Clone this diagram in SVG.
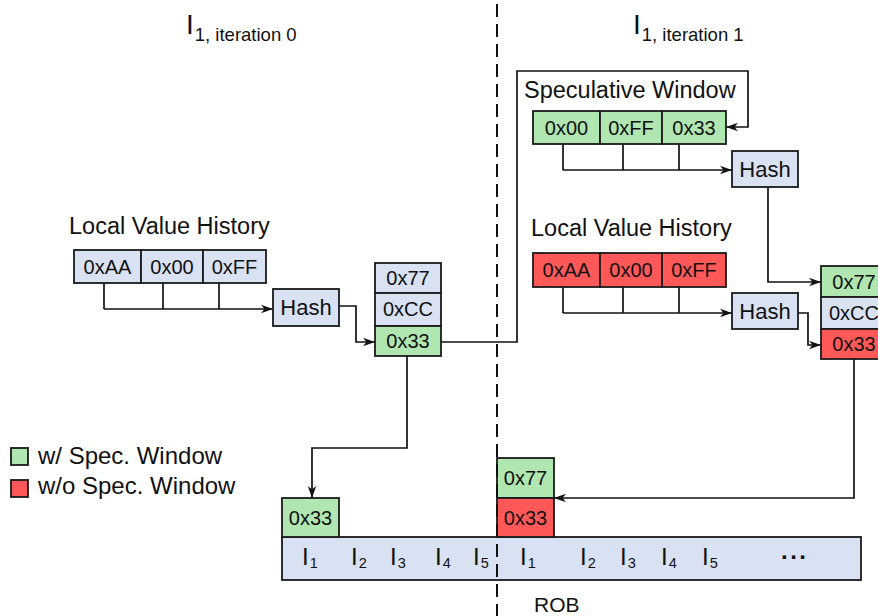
<svg xmlns="http://www.w3.org/2000/svg" width="878" height="616" viewBox="0 0 878 616">
<defs>
<style>
.b{fill:#D9E2F3;stroke:#1a1a1a;stroke-width:1.8}
.g{fill:#B0E6B0;stroke:#1a1a1a;stroke-width:1.8}
.r{fill:#FF5858;stroke:#1a1a1a;stroke-width:1.8}
.v{font-family:"Liberation Sans",Arial,sans-serif;font-size:20px;fill:#111;text-anchor:middle}
.h{font-family:"Liberation Sans",Arial,sans-serif;font-size:22px;fill:#111;text-anchor:middle}
.lab{font-family:"Liberation Sans",Arial,sans-serif;font-size:23.5px;fill:#111}
.rob{font-family:"Liberation Sans",Arial,sans-serif;font-size:24px;fill:#111}
.sub{font-size:14.5px}
.c{fill:none;stroke:#111;stroke-width:1.7}
.ca{fill:none;stroke:#111;stroke-width:1.7;marker-end:url(#ah)}
</style>
<marker id="ah" markerUnits="userSpaceOnUse" markerWidth="14" markerHeight="10" refX="12" refY="5" orient="auto">
<path d="M0,0.8 L12,5 L0,9.2 L3.5,5 Z" fill="#111"/>
</marker>
</defs>
<rect width="878" height="616" fill="#fff"/>

<g id="title0">
<text class="rob" x="186" y="34" style="font-size:28px">I<tspan style="font-size:18.5px" dy="7" dx="1">1, iteration 0</tspan></text>
</g>
<g id="title1">
<text class="rob" x="633" y="34" style="font-size:28px">I<tspan style="font-size:18.5px" dy="7" dx="1">1, iteration 1</tspan></text>
</g>

<g id="connectors">
<path class="c" d="M104,283 V309 M163,283 V309 M219,283 V309"/>
<path class="ca" d="M104,309 H273"/>
<path class="ca" d="M339,306 H356 V342 H375"/>
<path class="ca" d="M407,356 V448 H312 V498"/>
<path class="ca" d="M441,342 H517 V71 H748 V127 H726"/>
<path class="c" d="M563,144 V170 M623,144 V170 M679,144 V170"/>
<path class="ca" d="M563,170 H732"/>
<path class="ca" d="M768,187 V282 H821"/>
<path class="c" d="M563,287 V313 M623,287 V313 M679,287 V313"/>
<path class="ca" d="M563,313 H732"/>
<path class="ca" d="M798,313 H808 V345 H821"/>
<path class="ca" d="M854,359 V498 H554"/>
</g>

<g id="lvh0">
<text class="lab" x="69" y="234">Local Value History</text>
<rect class="b" x="74" y="250" width="67" height="33"/>
<rect class="b" x="141" y="250" width="62" height="33"/>
<rect class="b" x="203" y="250" width="63" height="33"/>
<text class="v" x="107.5" y="274">0xAA</text>
<text class="v" x="172" y="274">0x00</text>
<text class="v" x="234.5" y="274">0xFF</text>
</g>

<g id="hash0">
<rect class="b" x="273" y="289" width="66" height="37"/>
<text class="h" x="306" y="315">Hash</text>
</g>

<g id="stack0">
<rect class="b" x="375" y="263" width="66" height="30"/>
<rect class="b" x="375" y="293" width="66" height="33"/>
<rect class="g" x="375" y="326" width="66" height="30"/>
<text class="v" x="408" y="285">0x77</text>
<text class="v" x="408" y="316">0xCC</text>
<text class="v" x="408" y="348">0x33</text>
</g>

<g id="specwin">
<text class="lab" x="524" y="98">Speculative Window</text>
<rect class="g" x="533" y="111" width="67" height="33"/>
<rect class="g" x="600" y="111" width="62" height="33"/>
<rect class="g" x="662" y="111" width="64" height="33"/>
<text class="v" x="566.5" y="135">0x00</text>
<text class="v" x="631" y="135">0xFF</text>
<text class="v" x="694" y="135">0x33</text>
</g>

<g id="hash1a">
<rect class="b" x="732" y="151" width="66" height="36"/>
<text class="h" x="765" y="177">Hash</text>
</g>

<g id="lvh1">
<text class="lab" x="531" y="236">Local Value History</text>
<rect class="r" x="533" y="253" width="67" height="34"/>
<rect class="r" x="600" y="253" width="62" height="34"/>
<rect class="r" x="662" y="253" width="64" height="34"/>
<text class="v" x="566.5" y="277">0xAA</text>
<text class="v" x="631" y="277">0x00</text>
<text class="v" x="694" y="277">0xFF</text>
</g>

<g id="hash1b">
<rect class="b" x="732" y="293" width="66" height="36"/>
<text class="h" x="765" y="319">Hash</text>
</g>

<g id="stack1">
<rect class="g" x="821" y="266" width="66" height="31"/>
<rect class="b" x="821" y="297" width="66" height="32"/>
<rect class="r" x="821" y="329" width="66" height="30"/>
<text class="v" x="854" y="289">0x77</text>
<text class="v" x="854" y="320">0xCC</text>
<text class="v" x="854" y="351">0x33</text>
</g>

<g id="legend">
<rect class="g" x="11" y="448" width="17" height="17"/>
<rect class="r" x="11" y="480" width="17" height="17"/>
<text class="lab" x="38" y="464" style="font-size:24px">w/ Spec. Window</text>
<text class="lab" x="38" y="494" style="font-size:24px">w/o Spec. Window</text>
</g>

<g id="rob">
<rect class="b" x="282" y="537" width="579" height="43"/>
<text class="rob" x="302" y="565">I<tspan class="sub" dy="3" dx="1">1</tspan></text>
<text class="rob" x="351" y="565">I<tspan class="sub" dy="3" dx="1">2</tspan></text>
<text class="rob" x="390" y="565">I<tspan class="sub" dy="3" dx="1">3</tspan></text>
<text class="rob" x="435" y="565">I<tspan class="sub" dy="3" dx="1">4</tspan></text>
<text class="rob" x="473" y="565">I<tspan class="sub" dy="3" dx="1">5</tspan></text>
<text class="rob" x="520" y="565">I<tspan class="sub" dy="3" dx="1">1</tspan></text>
<text class="rob" x="580" y="565">I<tspan class="sub" dy="3" dx="1">2</tspan></text>
<text class="rob" x="620" y="565">I<tspan class="sub" dy="3" dx="1">3</tspan></text>
<text class="rob" x="661" y="565">I<tspan class="sub" dy="3" dx="1">4</tspan></text>
<text class="rob" x="702" y="565">I<tspan class="sub" dy="3" dx="1">5</tspan></text>
<text class="rob" x="781" y="559" style="letter-spacing:2.5px;font-weight:bold">...</text>
<text class="lab" x="534" y="612" style="font-size:21px">ROB</text>
</g>

<g id="rob0">
<rect class="g" x="282" y="498" width="57" height="39"/>
<text class="v" x="310.5" y="525">0x33</text>
</g>

<g id="rob1">
<rect class="g" x="497" y="458" width="57" height="40"/>
<rect class="r" x="497" y="498" width="57" height="39"/>
<text class="v" x="525.5" y="485">0x77</text>
<text class="v" x="525.5" y="525">0x33</text>
</g>

<g id="divider">
<line x1="497" y1="4" x2="497" y2="616" stroke="#111" stroke-width="2" stroke-dasharray="13 7"/>
</g>
</svg>
